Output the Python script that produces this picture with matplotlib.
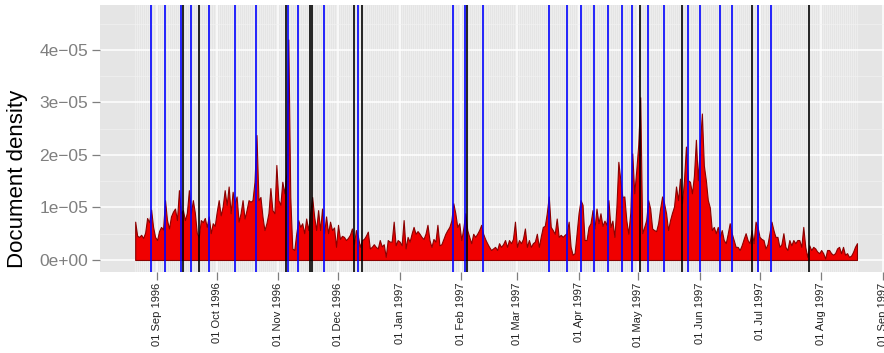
import matplotlib

matplotlib.use("Agg")
import matplotlib.pyplot as plt
import matplotlib.ticker as mticker
import numpy as np
import pandas as pd

plt.rcParams["font.family"] = ["Liberation Sans", "DejaVu Sans"]

# daily document density, in units of 1e-06, starting 1996-08-21
START_DATE = "1996-08-21"
AUG_1996 = [7.3, 4.6, 4.4, 4.8, 4.2, 5.2, 8.0, 7.2, 9.6, 6.3, 4.4]
SEP_1996 = [3.8, 5.5, 6.3, 5.8, 11.4, 7.6, 6.0, 8.3, 9.2, 9.8,
            7.6, 13.3, 8.9, 9.5, 7.6, 9.0, 13.3, 8.9, 11.4, 9.0,
            5.1, 4.4, 7.6, 7.2, 8.0, 6.3, 8.3, 5.1, 7.0, 6.5]
OCT_1996 = [9.2, 11.4, 8.5, 10.2, 13.3, 10.5, 14.0, 8.9, 13.0, 10.8,
            12.1, 7.3, 8.9, 11.4, 7.9, 9.5, 11.4, 11.1, 11.4, 14.9,
            23.8, 11.4, 12.0, 8.3, 5.7, 7.0, 8.9, 13.7, 9.5, 8.9,
            18.1]
NOV_1996 = [11.4, 10.5, 14.9, 12.7, 16.5, 42.0, 12.0, 2.2, 1.9, 5.0,
            7.6, 6.3, 7.0, 5.1, 7.9, 5.7, 8.9, 12.0, 8.3, 5.7,
            9.5, 5.7, 9.8, 5.1, 8.3, 5.1, 7.3, 5.7, 6.2, 2.5]
DEC_1996 = [6.7, 4.0, 4.6, 4.4, 3.8, 4.2, 4.8, 6.0, 3.0, 5.7,
            4.5, 2.5, 3.8, 4.0, 4.6, 5.4, 2.2, 2.5, 3.0, 2.5,
            2.2, 3.8, 2.6, 3.0, 0.6, 3.8, 3.5, 3.5, 7.3, 2.8,
            3.8]
JAN_1997 = [3.5, 2.8, 7.6, 2.2, 4.4, 3.5, 5.0, 6.3, 5.0, 5.5,
            5.0, 4.4, 4.0, 5.0, 6.7, 3.8, 2.5, 4.0, 3.5, 6.7,
            2.8, 3.0, 4.0, 5.0, 5.7, 6.3, 7.5, 10.8, 8.9, 6.3,
            7.0]
FEB_1997 = [3.8, 6.0, 8.9, 5.7, 4.4, 3.2, 5.0, 4.4, 5.0, 5.7,
            6.7, 5.0, 4.0, 3.2, 2.5, 1.9, 2.2, 2.5, 1.9, 3.2,
            2.5, 3.0, 3.8, 2.5, 3.8, 3.2, 4.0, 7.3]
MAR_1997 = [2.5, 3.8, 3.2, 4.0, 6.0, 2.5, 3.8, 2.5, 3.2, 3.5,
            5.0, 2.5, 4.5, 6.3, 6.5, 8.9, 12.1, 6.3, 5.7, 5.0,
            7.9, 4.4, 4.8, 4.4, 4.8, 5.1, 7.3, 2.5, 1.0, 1.3,
            5.1]
APR_1997 = [9.0, 11.4, 10.5, 3.8, 3.8, 6.3, 7.0, 9.5, 6.0, 9.8,
            7.0, 8.9, 6.5, 7.5, 6.7, 11.4, 6.3, 7.5, 4.4, 10.0,
            18.7, 15.2, 12.0, 12.1, 7.6, 5.0, 9.0, 20.3, 12.7, 17.1]
MAY_1997 = [22.0, 31.0, 5.1, 6.3, 7.6, 11.4, 9.8, 6.0, 5.7, 5.5,
            7.0, 9.8, 12.1, 10.8, 8.9, 5.7, 7.6, 9.0, 10.2, 14.0,
            11.4, 15.5, 10.8, 15.2, 21.6, 15.2, 14.9, 12.7, 16.0, 22.9,
            15.2]
JUN_1997 = [22.0, 27.9, 18.0, 15.2, 11.4, 10.0, 5.7, 6.3, 5.1, 6.3,
            4.4, 5.7, 3.8, 3.2, 5.0, 7.0, 5.1, 3.8, 2.5, 2.5,
            1.9, 2.8, 4.0, 5.1, 3.8, 3.2, 5.7, 3.2, 7.3, 6.3]
JUL_1997 = [4.4, 4.0, 3.8, 2.2, 3.0, 5.1, 7.3, 5.7, 4.4, 4.4,
            2.5, 3.0, 5.1, 2.5, 1.9, 3.8, 2.8, 3.8, 3.2, 3.8,
            3.8, 2.5, 6.3, 2.5, 0.6, 2.8, 1.9, 2.5, 2.2, 1.6,
            1.3]
AUG_1997 = [1.9, 1.3, 0.3, 1.9, 1.9, 1.3, 1.0, 1.3, 2.2, 2.5,
            1.3, 2.5, 1.0, 1.3, 0.6, 0.8, 1.5, 2.5, 3.2]

BLUE_EVENTS = [
    "1996-08-29", "1996-09-05", "1996-09-13", "1996-09-18", "1996-09-27",
    "1996-10-10", "1996-10-21", "1996-11-06", "1996-11-11", "1996-11-24",
    "1996-12-11", "1997-01-28", "1997-02-03", "1997-02-12", "1997-03-17",
    "1997-03-26", "1997-04-02", "1997-04-09", "1997-04-16", "1997-04-23",
    "1997-04-28", "1997-05-06", "1997-05-14", "1997-05-26", "1997-06-01",
    "1997-06-11", "1997-06-17", "1997-06-30", "1997-07-07",
]
BLACK_EVENTS = [
    "1996-09-14", "1996-09-22", "1996-11-05", "1996-11-17", "1996-11-18",
    "1996-12-09", "1996-12-13", "1997-02-04", "1997-05-02", "1997-05-23",
    "1997-06-27", "1997-07-26",
]

Y_TICKS = [0.0, 1e-05, 2e-05, 3e-05, 4e-05]
Y_TICK_LABELS = ["0e+00", "1e\u221205", "2e\u221205", "3e\u221205", "4e\u221205"]
Y_LABEL = "Document density"

PANEL_BG = "#E5E5E5"
GRID_MAJOR = "#FFFFFF"
GRID_MINOR = "#F2F2F2"
AXIS_GREY = "#7F7F7F"


def density_series():
    months = [AUG_1996, SEP_1996, OCT_1996, NOV_1996, DEC_1996, JAN_1997, FEB_1997,
              MAR_1997, APR_1997, MAY_1997, JUN_1997, JUL_1997, AUG_1997]
    values = np.concatenate([np.asarray(m, dtype=float) for m in months]) * 1e-06
    dates = pd.date_range(START_DATE, periods=len(values), freq="D")
    return dates, values


def main():
    dates, density = density_series()
    assert dates[-1] == pd.Timestamp("1997-08-19"), dates[-1]

    fig = plt.figure(figsize=(8.84, 3.53), dpi=100)
    ax = fig.add_axes([100 / 884, 81 / 353, 784 / 884, 267 / 353])
    ax.set_facecolor(PANEL_BG)
    for spine in ax.spines.values():
        spine.set_visible(False)

    origin = pd.Timestamp("1996-09-01")
    ax.set_xlim(origin - pd.Timedelta(days=28.7), origin + pd.Timedelta(days=365.6))
    ax.set_ylim(-0.229e-05, 4.857e-05)

    # grid: month starts major, one minor line per observed day
    month_ticks = pd.date_range("1996-09-01", "1997-09-01", freq="MS")
    ax.set_xticks(month_ticks)
    ax.set_xticklabels([d.strftime("%d %b %Y") for d in month_ticks],
                       rotation=90, fontsize=8, color="#222222")
    ax.set_xticks(dates, minor=True)
    ax.set_yticks(Y_TICKS)
    ax.set_yticklabels(Y_TICK_LABELS, fontsize=12.5, color=AXIS_GREY)
    ax.yaxis.set_minor_locator(mticker.FixedLocator([0.5e-05, 1.5e-05, 2.5e-05, 3.5e-05, 4.5e-05]))

    ax.grid(True, which="minor", color=GRID_MINOR, linewidth=0.45)
    ax.grid(True, which="major", color=GRID_MAJOR, linewidth=1.1)
    ax.set_axisbelow(True)
    ax.tick_params(which="major", length=5.5, width=0.9, color=AXIS_GREY)
    ax.tick_params(axis="x", which="major", pad=2)
    ax.tick_params(axis="y", which="major", pad=3)
    ax.tick_params(which="minor", length=0)

    ax.fill_between(dates, 0, density, facecolor="#F00000", edgecolor="#8B0000",
                    linewidth=0.8, zorder=2)

    for day in BLUE_EVENTS:
        ax.axvline(pd.Timestamp(day), color="#0000FF", linewidth=1.4, alpha=0.85, zorder=3)
    for day in BLACK_EVENTS:
        ax.axvline(pd.Timestamp(day), color="#000000", linewidth=1.4, alpha=0.85, zorder=4)

    ax.set_ylabel(Y_LABEL, fontsize=16)
    ax.yaxis.set_label_coords(-0.092, 0.348)

    fig.savefig("out.png", dpi=100)
    plt.close(fig)


if __name__ == "__main__":
    main()
